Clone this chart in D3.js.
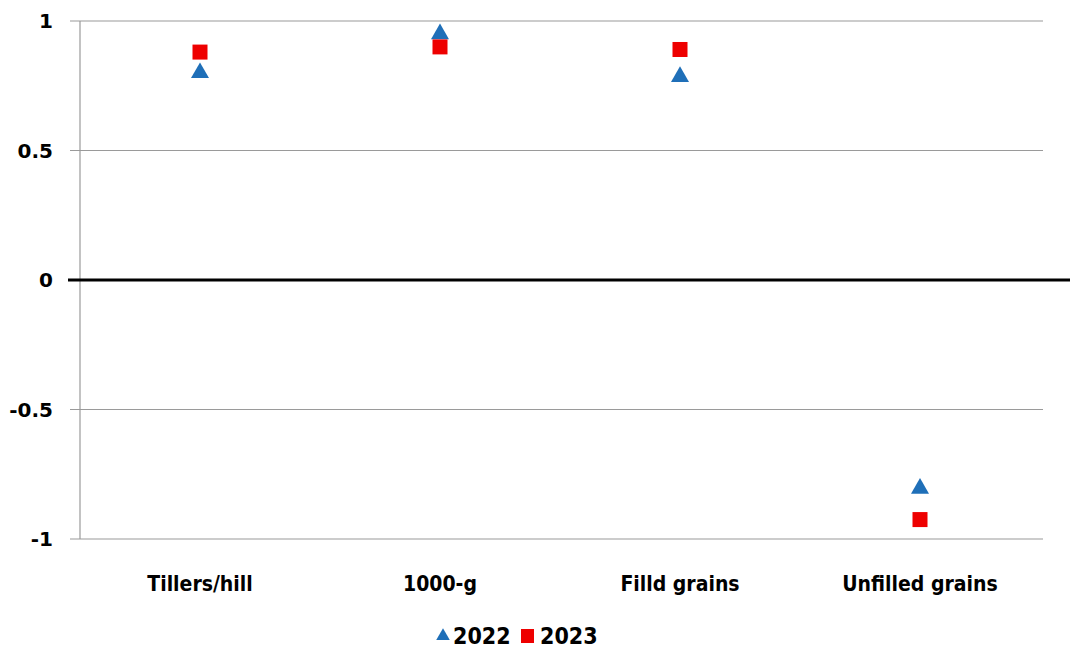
<!DOCTYPE html>
<html>
<head>
<meta charset="utf-8">
<script src="https://cdn.jsdelivr.net/npm/d3@7"></script>
<style>
body { margin: 0; background: #fff; }
</style>
</head>
<body>
<svg id="chart" width="1070" height="651"></svg>
<script>
// Categories on the x axis
const categories = ["Tillers/hill", "1000-g", "Filld grains", "Unfilled grains"];
// Series values
const values2022 = [0.80, 0.95, 0.785, -0.805];
const values2023 = [0.88, 0.90, 0.89, -0.925];
const seriesNames = ["2022", "2023"];
// Tick values for y axis
const yTicks = [1, 0.5, 0, -0.5, -1];

const svg = d3.select("#chart");
const plotLeft = 80, plotRight = 1040, plotTop = 21, plotBottom = 539;

const x = d3.scaleBand().domain(categories).range([plotLeft, plotRight]);
const y = d3.scaleLinear().domain([-1, 1]).range([plotBottom, plotTop]);

// gridlines
svg.append("g")
  .selectAll("line")
  .data(yTicks.filter(d => d !== 0))
  .enter().append("line")
  .attr("x1", plotLeft - 10).attr("x2", 1043)
  .attr("y1", d => y(d)).attr("y2", d => y(d))
  .attr("stroke", "#9a9a9a").attr("stroke-width", 1.2);

// y axis line
svg.append("line")
  .attr("x1", plotLeft).attr("x2", plotLeft)
  .attr("y1", y(1)).attr("y2", y(-1))
  .attr("stroke", "#9a9a9a").attr("stroke-width", 1.2);

// zero line
svg.append("line")
  .attr("x1", plotLeft - 12).attr("x2", 1070)
  .attr("y1", y(0)).attr("y2", y(0))
  .attr("stroke", "#000").attr("stroke-width", 3);

// y tick labels
svg.append("g")
  .selectAll("text")
  .data(yTicks)
  .enter().append("text")
  .attr("x", 53).attr("y", d => y(d))
  .attr("dy", "0.35em")
  .attr("text-anchor", "end")
  .attr("font-family", "DejaVu Sans")
  .attr("font-weight", "bold")
  .attr("font-size", 20)
  .text(d => d);

// x labels
svg.append("g")
  .selectAll("text")
  .data(categories)
  .enter().append("text")
  .attr("x", d => x(d) + x.bandwidth() / 2)
  .attr("y", 591)
  .attr("text-anchor", "middle")
  .attr("font-family", "'Liberation Sans Narrow', 'DejaVu Sans Condensed', sans-serif")
  .attr("font-weight", "bold")
  .attr("font-stretch", "condensed")
  .attr("font-size", 21)
  .text(d => d);

const blue = "#1f6fb8", red = "#ee0000";
const tri = d3.symbol().type(d3.symbolTriangle).size(140);

// 2022 triangles
svg.append("g")
  .selectAll("path")
  .data(values2022)
  .enter().append("path")
  .attr("d", tri)
  .attr("transform", (d, i) => `translate(${x(categories[i]) + x.bandwidth() / 2},${y(d)})`)
  .attr("fill", blue);

// 2023 squares
svg.append("g")
  .selectAll("rect")
  .data(values2023)
  .enter().append("rect")
  .attr("x", (d, i) => x(categories[i]) + x.bandwidth() / 2 - 7.5)
  .attr("y", d => y(d) - 7.5)
  .attr("width", 15).attr("height", 15)
  .attr("fill", red);

// legend
const legend = svg.append("g").attr("transform", "translate(0,636)");
legend.append("path")
  .attr("d", d3.symbol().type(d3.symbolTriangle).size(80))
  .attr("transform", "translate(443,0)")
  .attr("fill", blue);
legend.append("text")
  .attr("x", 453).attr("y", 0).attr("dy", "0.35em")
  .attr("font-family", "'Liberation Sans Narrow', 'DejaVu Sans Condensed', sans-serif")
  .attr("font-weight", "bold").attr("font-size", 23)
  .text(seriesNames[0]);
legend.append("rect")
  .attr("x", 521).attr("y", -7).attr("width", 13).attr("height", 14)
  .attr("fill", red);
legend.append("text")
  .attr("x", 540).attr("y", 0).attr("dy", "0.35em")
  .attr("font-family", "'Liberation Sans Narrow', 'DejaVu Sans Condensed', sans-serif")
  .attr("font-weight", "bold").attr("font-size", 23)
  .text(seriesNames[1]);
</script>
</body>
</html>
